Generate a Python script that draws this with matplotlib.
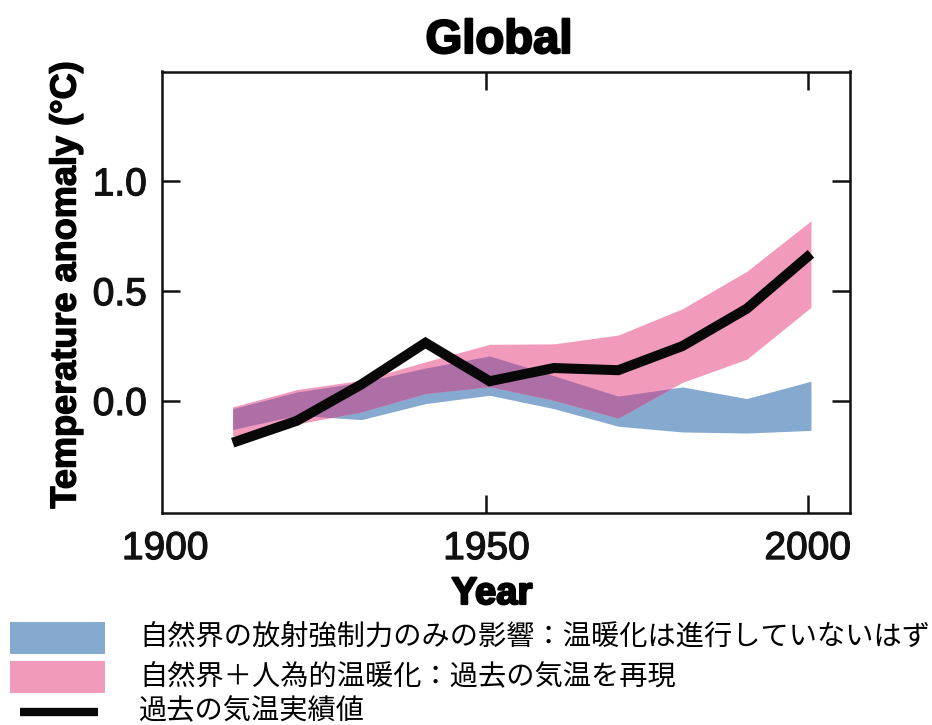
import numpy as np
import matplotlib
matplotlib.use("Agg")
import matplotlib.pyplot as plt
import matplotlib.patheffects as pe
from matplotlib.patches import Rectangle
from matplotlib.lines import Line2D

# ---- data (decadal means) ----
years = [1910.5, 1920.5, 1930.5, 1940.5, 1950.5, 1960.5, 1970.5, 1980.5, 1990.5, 2000.5]
observed = [-0.19, -0.09, 0.075, 0.265, 0.09, 0.15, 0.14, 0.25, 0.42, 0.67]
natural_low = [-0.13, -0.065, -0.085, -0.012, 0.026, -0.035, -0.115, -0.141, -0.146, -0.134]
natural_high = [-0.035, 0.041, 0.085, 0.15, 0.205, 0.115, 0.022, 0.064, 0.011, 0.09]
combined_low = [-0.16, -0.105, -0.05, 0.034, 0.065, 0.003, -0.078, 0.085, 0.19, 0.426]
combined_high = [-0.027, 0.052, 0.094, 0.178, 0.258, 0.26, 0.30, 0.42, 0.59, 0.82]

x_ticks = [1900, 1950, 2000]
x_ticklabels = ["1900", "1950", "2000"]
y_ticks = [0.0, 0.5, 1.0]
y_ticklabels = ["0.0", "0.5", "1.0"]

title = "Global"
xlabel = "Year"
ylabel = "Temperature anomaly (°C)"
legend_labels = [
    "自然界の放射強制力のみの影響：温暖化は進行していないはず",
    "自然界＋人為的温暖化：過去の気温を再現",
    "過去の気温実績値",
]

BLUE = "#86a9cf"
PINK = "#f29abb"
PURPLE = "#ae6ea6"

W, H = 932, 725
fig = plt.figure(figsize=(W / 100, H / 100), dpi=100)
L, R, T, B = 162, 849.5, 71.5, 513
ax = fig.add_axes([L / W, 1 - B / H, (R - L) / W, (B - T) / H])

x = np.asarray(years, float)
ax.fill_between(x, natural_low, natural_high, color=BLUE, lw=0, zorder=1)
ax.fill_between(x, combined_low, combined_high, color=PINK, lw=0, zorder=2)
# overlap region (rendering only: resample bounds on a fine grid)
xf = np.linspace(x[0], x[-1], 2000)
lo = np.maximum(np.interp(xf, x, natural_low), np.interp(xf, x, combined_low))
hi = np.minimum(np.interp(xf, x, natural_high), np.interp(xf, x, combined_high))
ax.fill_between(xf, lo, hi, where=hi > lo, color=PURPLE, lw=0, zorder=3)
ax.plot(x, observed, color="#080808", lw=7.2, solid_joinstyle="miter",
        solid_capstyle="butt", zorder=4)

ax.set_xlim(1899.5, 2006.5)
ax.set_ylim(-0.51, 1.5)

thick = [pe.withStroke(linewidth=0.9, foreground="#111111")]
tick_font = dict(family="Liberation Sans", size=28, color="#111111")
ax.set_xticks(x_ticks)
ax.set_xticklabels(x_ticklabels, **tick_font)
ax.set_yticks(y_ticks)
ax.set_yticklabels(y_ticklabels, **tick_font)
for t in ax.get_xticklabels() + ax.get_yticklabels():
    t.set_path_effects(thick)
ax.tick_params(direction="in", length=13, width=1.8, top=True, right=True,
               color="#111111")
ax.tick_params(axis="x", pad=13)
ax.tick_params(axis="y", pad=11)
# the 1900 tick sits on the left spine: no separate mark there
t0 = ax.xaxis.get_major_ticks()[0]
t0.tick1line.set_visible(False)
t0.tick2line.set_visible(False)
for s in ax.spines.values():
    s.set_linewidth(1.8)
    s.set_color("#111111")

heavy = [pe.withStroke(linewidth=1.6, foreground="black")]
fig.text(499 / W, 1 - 53 / H, title, ha="center", va="baseline",
         family="Liberation Sans", weight="bold", size=34, path_effects=heavy)
fig.text(492 / W, 1 - 604 / H, xlabel, ha="center", va="baseline",
         family="Liberation Sans", weight="bold", size=27.5, path_effects=heavy)
fig.text(66 / W, 1 - 285 / H, ylabel, ha="center", va="center", rotation=90,
         family="Liberation Sans", weight="bold", size=26,
         path_effects=[pe.withStroke(linewidth=1.0, foreground="black")])

# ---- legend ----
fig.add_artist(Rectangle((10 / W, 1 - 654 / H), 95 / W, 32 / H,
                         transform=fig.transFigure, color=BLUE, lw=0))
fig.add_artist(Rectangle((10 / W, 1 - 693 / H), 95 / W, 32 / H,
                         transform=fig.transFigure, color=PINK, lw=0))
fig.add_artist(Line2D([20 / W, 98 / W], [1 - 712 / H, 1 - 712 / H],
                      transform=fig.transFigure, color="#080808", lw=6,
                      solid_capstyle="butt"))
jp = dict(family=["Noto Sans CJK JP", "DejaVu Sans"], size=20.3)
for yy, lab in zip([637, 677, 711], legend_labels):
    fig.text(139 / W, 1 - yy / H, lab, ha="left", va="center", **jp)

fig.savefig("out.png", dpi=100)
